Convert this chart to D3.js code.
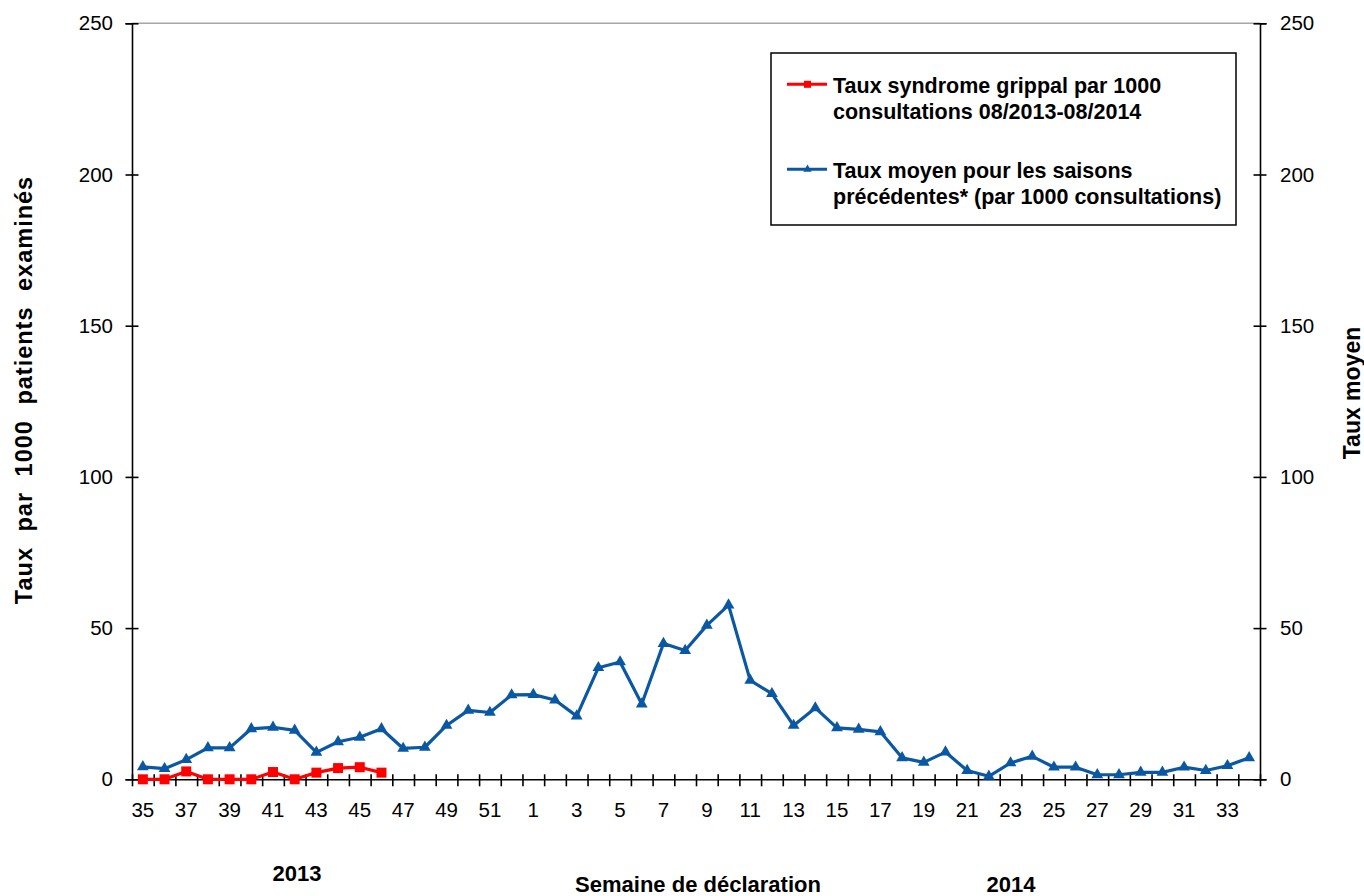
<!DOCTYPE html>
<html>
<head>
<meta charset="utf-8">
<script src="https://cdn.jsdelivr.net/npm/d3@7"></script>
<style>
  body { margin: 0; background: #fff; }
  svg { display: block; font-family: "Liberation Sans", Arial, sans-serif; }
</style>
</head>
<body>
<svg id="chart" width="1364" height="896"></svg>
<script>
//Weeks of the season (08/2013 - 08/2014)
var weeks = [35,36,37,38,39,40,41,42,43,44,45,46,47,48,49,50,51,52,
             1,2,3,4,5,6,7,8,9,10,11,12,13,14,15,16,17,18,19,20,21,22,23,24,25,26,27,28,29,30,31,32,33,34];

//Mean rate of previous seasons (per 1000 consultations)
var tauxMoyen = [4.1,3.5,6.5,10.4,10.4,16.7,17.2,16.2,8.9,12.4,13.9,16.7,10.2,10.6,17.8,22.8,22.1,27.9,
                 28.0,26.2,20.9,36.9,38.8,24.9,44.9,42.6,50.9,57.6,32.7,28.3,17.8,23.6,17.0,16.5,15.7,
                 7.1,5.6,9.0,2.9,1.0,5.4,7.6,4.0,4.0,1.5,1.5,2.3,2.3,4.0,2.9,4.5,7.1];

//Current season, flu-like syndrome rate (weeks 35 to 46 only)
var tauxGrippal = [0,0,2.6,0,0,0,2.4,0,2.2,3.7,4.0,2.2];

var yTicks = [0,50,100,150,200,250];

var legendLabels = [
  ["Taux syndrome grippal par 1000", "consultations 08/2013-08/2014"],
  ["Taux moyen pour les saisons", "précédentes* (par 1000 consultations)"]
];

var colRed = "#ff0000";
var colBlue = "#0a58a3";

var svg = d3.select("#chart");
//Plot area edges (in pixels)
var plotLeft = 132, plotRight = 1260, plotTop = 23.3, plotBottom = 779.3;

var x = d3.scaleBand().domain(weeks).range([plotLeft, plotRight]);
var xEdge = d3.scaleLinear().domain([0, weeks.length]).range([plotLeft, plotRight]);
var y = d3.scaleLinear().domain([0, 250]).range([plotBottom, plotTop]);

//Grey top border of the plot area
svg.append("line")
  .attr("x1", plotLeft).attr("x2", plotRight)
  .attr("y1", plotTop).attr("y2", plotTop)
  .attr("stroke", "#a6a6a6").attr("stroke-width", 1.5);

//Left axis
var gL = svg.append("g")
  .attr("transform", "translate(" + plotLeft + ",0)")
  .call(d3.axisLeft(y).tickValues(yTicks).tickSize(6.5).tickPadding(12.5));
gL.selectAll(".tick line").attr("x2", -6.5).attr("x1", 6.5);

//Right axis
var gR = svg.append("g")
  .attr("transform", "translate(" + plotRight + ",0)")
  .call(d3.axisRight(y).tickValues(yTicks).tickSize(6.5).tickPadding(13.5));
gR.selectAll(".tick line").attr("x1", -6.5).attr("x2", 6.5);

[gL, gR].forEach(function(g){
  g.select(".domain").attr("stroke", "#000").attr("stroke-width", 1.6);
  g.selectAll(".tick line").attr("stroke", "#000").attr("stroke-width", 1.6);
  g.selectAll(".tick text").attr("font-size", 20.5).attr("fill", "#000")
    .attr("font-family", "Liberation Sans, Arial, sans-serif");
});

//Bottom axis: ticks between the weeks, labels every other week
var gB = svg.append("g")
  .attr("transform", "translate(0," + plotBottom + ")")
  .call(d3.axisBottom(xEdge).tickValues(d3.range(weeks.length + 1)).tickFormat("").tickSize(7).tickSizeOuter(0));
gB.selectAll(".tick line").attr("y1", -5).attr("stroke", "#000").attr("stroke-width", 1.6);
gB.select(".domain").attr("stroke", "#000").attr("stroke-width", 1.6);

svg.append("g").selectAll("text")
  .data(weeks.filter(function(d, i){ return i % 2 == 0; }))
  .enter().append("text")
  .attr("x", function(d){ return x(d) + x.bandwidth() / 2; })
  .attr("y", 817)
  .attr("text-anchor", "middle")
  .attr("font-size", 20.5)
  .text(function(d){ return d; });

//Series lines
var line = d3.line()
  .x(function(d, i){ return x(weeks[i]) + x.bandwidth() / 2; })
  .y(function(d){ return y(d); });

svg.append("path").datum(tauxMoyen)
  .attr("d", line).attr("fill", "none")
  .attr("stroke", colBlue).attr("stroke-width", 3.2).attr("stroke-linejoin", "round");

svg.append("g").selectAll("path")
  .data(tauxMoyen).enter().append("path")
  .attr("d", d3.symbol().type(d3.symbolTriangle).size(60))
  .attr("transform", function(d, i){ return "translate(" + (x(weeks[i]) + x.bandwidth() / 2) + "," + y(d) + ")"; })
  .attr("fill", colBlue);

svg.append("path").datum(tauxGrippal)
  .attr("d", line).attr("fill", "none")
  .attr("stroke", colRed).attr("stroke-width", 3.2).attr("stroke-linejoin", "round");

svg.append("g").selectAll("rect")
  .data(tauxGrippal).enter().append("rect")
  .attr("x", function(d, i){ return x(weeks[i]) + x.bandwidth() / 2 - 5; })
  .attr("y", function(d){ return y(d) - 5; })
  .attr("width", 10).attr("height", 10)
  .attr("fill", colRed);

//Axis titles
svg.append("text")
  .attr("transform", "translate(32,390) rotate(-90)")
  .attr("text-anchor", "middle")
  .attr("font-size", 23.5).attr("font-weight", "bold")
  .attr("letter-spacing", 1).attr("word-spacing", 8)
  .text("Taux par 1000 patients examinés");

svg.append("text")
  .attr("transform", "translate(1360,393) rotate(-90)")
  .attr("text-anchor", "middle")
  .attr("font-size", 23).attr("font-weight", "bold")
  .text("Taux moyen");

svg.append("text")
  .attr("x", 698).attr("y", 892)
  .attr("text-anchor", "middle")
  .attr("font-size", 22).attr("font-weight", "bold")
  .text("Semaine de déclaration");

svg.append("text")
  .attr("x", 297).attr("y", 881)
  .attr("text-anchor", "middle")
  .attr("font-size", 22).attr("font-weight", "bold")
  .text("2013");

svg.append("text")
  .attr("x", 1011).attr("y", 892)
  .attr("text-anchor", "middle")
  .attr("font-size", 22).attr("font-weight", "bold")
  .text("2014");

//Legend
var legend = svg.append("g");
legend.append("rect")
  .attr("x", 771).attr("y", 53).attr("width", 465).attr("height", 172)
  .attr("fill", "#fff").attr("stroke", "#000").attr("stroke-width", 1.5);

var legendY = [84.3, 169.3];
var legendCols = [colRed, colBlue];
legendLabels.forEach(function(lines, k){
  var ly = legendY[k];
  legend.append("line")
    .attr("x1", 787).attr("x2", 827).attr("y1", ly).attr("y2", ly)
    .attr("stroke", legendCols[k]).attr("stroke-width", 3);
  if(k == 0){
    legend.append("rect").attr("x", 804).attr("y", ly - 3.5).attr("width", 7).attr("height", 7).attr("fill", colRed);
  } else {
    legend.append("path")
      .attr("d", d3.symbol().type(d3.symbolTriangle).size(30))
      .attr("transform", "translate(807.5," + ly + ")")
      .attr("fill", colBlue);
  }
  var t = legend.append("text")
    .attr("x", 833).attr("y", ly + 9)
    .attr("font-size", 21.5).attr("font-weight", "bold");
  lines.forEach(function(s, j){
    t.append("tspan").attr("x", 833).attr("dy", j == 0 ? 0 : 26).text(s);
  });
});
</script>
</body>
</html>
